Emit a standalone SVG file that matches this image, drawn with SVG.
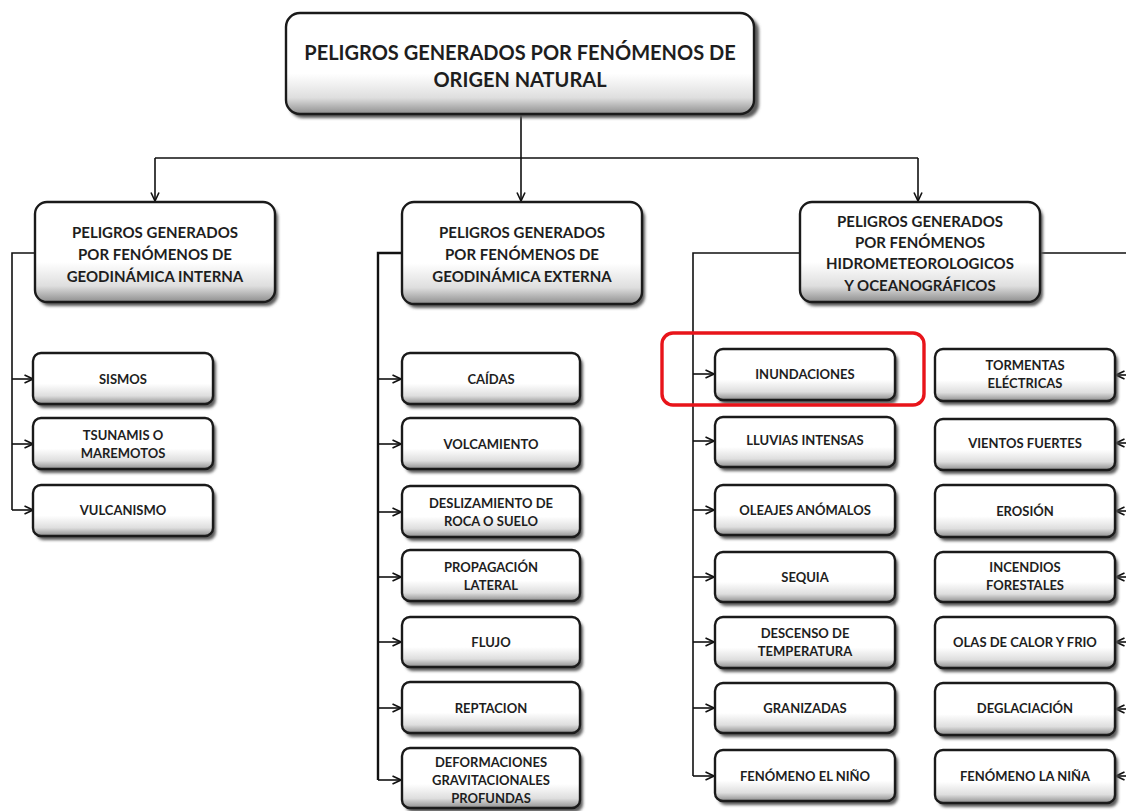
<svg xmlns="http://www.w3.org/2000/svg" width="1126" height="811" viewBox="0 0 1126 811">
<defs>
<linearGradient id="g" x1="0" y1="0" x2="0" y2="1">
<stop offset="0" stop-color="#ffffff"/>
<stop offset="0.6" stop-color="#ffffff"/>
<stop offset="0.84" stop-color="#dedede"/>
<stop offset="1" stop-color="#8e8e8e"/>
</linearGradient>
<filter id="sh" x="-10%" y="-10%" width="130%" height="140%">
<feGaussianBlur stdDeviation="1.6"/>
</filter>
<marker id="ar" viewBox="0 0 10 10" refX="9.5" refY="5" markerWidth="10" markerHeight="10" markerUnits="userSpaceOnUse" orient="auto">
<path d="M1,1 L9.5,5 L1,9" fill="none" stroke="#111" stroke-width="1.6"/>
</marker>
</defs>
<style>
.box{fill:url(#g);stroke:#1a1a1a;stroke-width:2.4}
.shd{fill:#5a5a5a;filter:url(#sh)}
.t{font-family:Lato,"Open Sans",sans-serif;font-weight:bold;fill:#1e1e1e;text-anchor:middle}
.t1{font-size:20px}
.t2{font-size:15px}
.t3{font-size:13px}
.ln{fill:none;stroke:#111;stroke-width:1.6}
.red{fill:none;stroke:#e8141a;stroke-width:3.4}
</style>
<rect width="1126" height="811" fill="#ffffff"/>

<g id="connectors">
<path class="ln" d="M521,115 V158 M155,158 H918"/>
<path class="ln" d="M155,158 V201" marker-end="url(#ar)"/>
<path class="ln" d="M521,158 V201" marker-end="url(#ar)"/>
<path class="ln" d="M918,158 V201" marker-end="url(#ar)"/>
<path class="ln" d="M35,253 H12 V510"/>
<path class="ln" d="M12,379 H33" marker-end="url(#ar)"/>
<path class="ln" d="M12,444 H33" marker-end="url(#ar)"/>
<path class="ln" d="M12,510 H33" marker-end="url(#ar)"/>
<path class="ln" d="M402,253 H378 V780" style="stroke-width:2.4"/>
<path class="ln" d="M378,379 H401" marker-end="url(#ar)"/>
<path class="ln" d="M378,444 H401" marker-end="url(#ar)"/>
<path class="ln" d="M378,512 H401" marker-end="url(#ar)"/>
<path class="ln" d="M378,577 H401" marker-end="url(#ar)"/>
<path class="ln" d="M378,642 H401" marker-end="url(#ar)"/>
<path class="ln" d="M378,708 H401" marker-end="url(#ar)"/>
<path class="ln" d="M378,780 H401" marker-end="url(#ar)"/>
<path class="ln" d="M800,253 H693 V776"/>
<path class="ln" d="M693,374 H714" marker-end="url(#ar)"/>
<path class="ln" d="M693,441 H714" marker-end="url(#ar)"/>
<path class="ln" d="M693,510 H714" marker-end="url(#ar)"/>
<path class="ln" d="M693,577 H714" marker-end="url(#ar)"/>
<path class="ln" d="M693,642 H714" marker-end="url(#ar)"/>
<path class="ln" d="M693,708 H714" marker-end="url(#ar)"/>
<path class="ln" d="M693,776 H714" marker-end="url(#ar)"/>
<path class="ln" d="M1040,253 H1130 V776"/>
<path class="ln" d="M1130,375 H1116" marker-end="url(#ar)"/>
<path class="ln" d="M1130,443 H1116" marker-end="url(#ar)"/>
<path class="ln" d="M1130,511 H1116" marker-end="url(#ar)"/>
<path class="ln" d="M1130,577 H1116" marker-end="url(#ar)"/>
<path class="ln" d="M1130,642 H1116" marker-end="url(#ar)"/>
<path class="ln" d="M1130,709 H1116" marker-end="url(#ar)"/>
<path class="ln" d="M1130,776 H1116" marker-end="url(#ar)"/>
</g>

<g id="root">
<rect class="shd" x="289" y="17" width="470" height="101" rx="14"/>
<rect class="box" x="286" y="13" width="468" height="101" rx="14"/>
<text class="t t1" x="520" y="60">PELIGROS GENERADOS POR FENÓMENOS DE</text>
<text class="t t1" x="520" y="87">ORIGEN NATURAL</text>
</g>

<g id="interna">
<rect class="shd" x="38" y="206" width="240" height="100" rx="12"/>
<rect class="box" x="35" y="202" width="240" height="100" rx="12"/>
<text class="t t2" x="155" y="238">PELIGROS GENERADOS</text>
<text class="t t2" x="155" y="260">POR FENÓMENOS DE</text>
<text class="t t2" x="155" y="282">GEODINÁMICA INTERNA</text>
</g>

<g id="externa">
<rect class="shd" x="405" y="206" width="240" height="102" rx="12"/>
<rect class="box" x="402" y="202" width="240" height="102" rx="12"/>
<text class="t t2" x="522" y="238">PELIGROS GENERADOS</text>
<text class="t t2" x="522" y="260">POR FENÓMENOS DE</text>
<text class="t t2" x="522" y="282">GEODINÁMICA EXTERNA</text>
</g>

<g id="hidro">
<rect class="shd" x="803" y="206" width="240" height="100" rx="12"/>
<rect class="box" x="800" y="202" width="240" height="100" rx="12"/>
<text class="t t2" x="920" y="227">PELIGROS GENERADOS</text>
<text class="t t2" x="920" y="248">POR FENÓMENOS</text>
<text class="t t2" x="920" y="269">HIDROMETEOROLOGICOS</text>
<text class="t t2" x="920" y="291">Y OCEANOGRÁFICOS</text>
</g>

<!-- left column -->
<g id="sismos"><rect class="shd" x="36" y="357" width="180" height="51" rx="8"/><rect class="box" x="33" y="353" width="180" height="51" rx="8"/><text class="t t3" x="123" y="384">SISMOS</text></g>
<g id="tsunamis"><rect class="shd" x="36" y="422" width="180" height="51" rx="8"/><rect class="box" x="33" y="418" width="180" height="51" rx="8"/><text class="t t3" x="123" y="440">TSUNAMIS O</text><text class="t t3" x="123" y="458">MAREMOTOS</text></g>
<g id="vulcanismo"><rect class="shd" x="36" y="489" width="180" height="51" rx="8"/><rect class="box" x="33" y="485" width="180" height="51" rx="8"/><text class="t t3" x="123" y="515">VULCANISMO</text></g>

<!-- middle column -->
<g id="caidas"><rect class="shd" x="405" y="357" width="178" height="51" rx="8"/><rect class="box" x="402" y="353" width="178" height="51" rx="8"/><text class="t t3" x="491" y="384">CAÍDAS</text></g>
<g id="volcamiento"><rect class="shd" x="405" y="422" width="178" height="51" rx="8"/><rect class="box" x="402" y="418" width="178" height="51" rx="8"/><text class="t t3" x="491" y="449">VOLCAMIENTO</text></g>
<g id="deslizamiento"><rect class="shd" x="405" y="490" width="178" height="51" rx="8"/><rect class="box" x="402" y="486" width="178" height="51" rx="8"/><text class="t t3" x="491" y="508">DESLIZAMIENTO DE</text><text class="t t3" x="491" y="526">ROCA O SUELO</text></g>
<g id="propagacion"><rect class="shd" x="405" y="554" width="178" height="51" rx="8"/><rect class="box" x="402" y="550" width="178" height="51" rx="8"/><text class="t t3" x="491" y="572">PROPAGACIÓN</text><text class="t t3" x="491" y="590">LATERAL</text></g>
<g id="flujo"><rect class="shd" x="405" y="621" width="178" height="50" rx="8"/><rect class="box" x="402" y="617" width="178" height="50" rx="8"/><text class="t t3" x="491" y="647">FLUJO</text></g>
<g id="reptacion"><rect class="shd" x="405" y="686" width="178" height="51" rx="8"/><rect class="box" x="402" y="682" width="178" height="51" rx="8"/><text class="t t3" x="491" y="713">REPTACION</text></g>
<g id="deformaciones"><rect class="shd" x="405" y="752" width="178" height="60" rx="8"/><rect class="box" x="402" y="748" width="178" height="60" rx="8"/><text class="t t3" x="491" y="767">DEFORMACIONES</text><text class="t t3" x="491" y="785">GRAVITACIONALES</text><text class="t t3" x="491" y="803">PROFUNDAS</text></g>

<!-- right-left column -->
<g id="inundaciones"><rect class="shd" x="718" y="353" width="180" height="51" rx="8"/><rect class="box" x="715" y="349" width="180" height="51" rx="8"/><text class="t t3" x="805" y="379">INUNDACIONES</text></g>
<g id="lluvias"><rect class="shd" x="718" y="421" width="180" height="50" rx="8"/><rect class="box" x="715" y="417" width="180" height="50" rx="8"/><text class="t t3" x="805" y="445">LLUVIAS INTENSAS</text></g>
<g id="oleajes"><rect class="shd" x="718" y="489" width="180" height="50" rx="8"/><rect class="box" x="715" y="485" width="180" height="50" rx="8"/><text class="t t3" x="805" y="515">OLEAJES ANÓMALOS</text></g>
<g id="sequia"><rect class="shd" x="718" y="556" width="180" height="50" rx="8"/><rect class="box" x="715" y="552" width="180" height="50" rx="8"/><text class="t t3" x="805" y="582">SEQUIA</text></g>
<g id="descenso"><rect class="shd" x="718" y="621" width="180" height="51" rx="8"/><rect class="box" x="715" y="617" width="180" height="51" rx="8"/><text class="t t3" x="805" y="638">DESCENSO DE</text><text class="t t3" x="805" y="656">TEMPERATURA</text></g>
<g id="granizadas"><rect class="shd" x="718" y="687" width="180" height="50" rx="8"/><rect class="box" x="715" y="683" width="180" height="50" rx="8"/><text class="t t3" x="805" y="713">GRANIZADAS</text></g>
<g id="elnino"><rect class="shd" x="718" y="754" width="180" height="51" rx="8"/><rect class="box" x="715" y="750" width="180" height="51" rx="8"/><text class="t t3" x="805" y="781">FENÓMENO EL NIÑO</text></g>

<!-- right-right column -->
<g id="tormentas"><rect class="shd" x="938" y="353" width="180" height="52" rx="8"/><rect class="box" x="935" y="349" width="180" height="52" rx="8"/><text class="t t3" x="1025" y="370">TORMENTAS</text><text class="t t3" x="1025" y="388">ELÉCTRICAS</text></g>
<g id="vientos"><rect class="shd" x="938" y="423" width="180" height="51" rx="8"/><rect class="box" x="935" y="419" width="180" height="51" rx="8"/><text class="t t3" x="1025" y="448">VIENTOS FUERTES</text></g>
<g id="erosion"><rect class="shd" x="938" y="489" width="180" height="52" rx="8"/><rect class="box" x="935" y="485" width="180" height="52" rx="8"/><text class="t t3" x="1025" y="516">EROSIÓN</text></g>
<g id="incendios"><rect class="shd" x="938" y="556" width="180" height="50" rx="8"/><rect class="box" x="935" y="552" width="180" height="50" rx="8"/><text class="t t3" x="1025" y="572">INCENDIOS</text><text class="t t3" x="1025" y="590">FORESTALES</text></g>
<g id="olas"><rect class="shd" x="938" y="621" width="180" height="51" rx="8"/><rect class="box" x="935" y="617" width="180" height="51" rx="8"/><text class="t t3" x="1025" y="647">OLAS DE CALOR Y FRIO</text></g>
<g id="deglaciacion"><rect class="shd" x="938" y="687" width="180" height="52" rx="8"/><rect class="box" x="935" y="683" width="180" height="52" rx="8"/><text class="t t3" x="1025" y="713">DEGLACIACIÓN</text></g>
<g id="lanina"><rect class="shd" x="938" y="754" width="180" height="53" rx="8"/><rect class="box" x="935" y="750" width="180" height="53" rx="8"/><text class="t t3" x="1025" y="781">FENÓMENO LA NIÑA</text></g>

<rect id="highlight" class="red" x="662" y="333" width="262" height="72" rx="11"/>
</svg>
